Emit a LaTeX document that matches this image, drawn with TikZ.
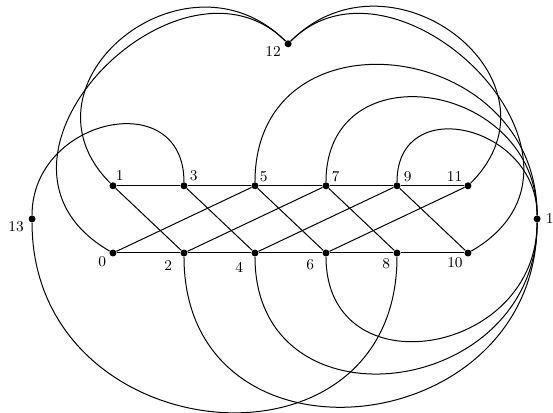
\documentclass[tikz,border=0pt]{standalone}
\usepackage{tikz}
\tikzset{
  vtx/.style={circle,fill=black,inner sep=0pt,minimum size=4.2pt},
  link/.style={line width=0.6pt},
  every label/.style={inner sep=0.5pt,font=\small},
}

\begin{document}
\begin{tikzpicture}
  \def\hy{1.42}
  \useasboundingbox (-2.387,-3.380) rectangle (9.296,5.345);
  % bottom row
  \node[vtx,label={[label distance=1.4pt]202:0}] (v0) at (0,0) {};
  \node[vtx,label={[label distance=5.2pt]211:2}] (v2) at (1.5,0) {};
  \node[vtx,label={[label distance=6pt]219:4}] (v4) at (3,0) {};
  \node[vtx,label={[label distance=4.9pt]205:6}] (v6) at (4.5,0) {};
  \node[vtx,label={[label distance=1.9pt]215:8}] (v8) at (6,0) {};
  \node[vtx,label={[label distance=0.9pt]219:10}] (v10) at (7.5,0) {};
  % top row
  \node[vtx,label={[label distance=0.5pt]68:1}] (v1) at (0,\hy) {};
  \node[vtx,label={[label distance=1.5pt]42:3}] (v3) at (1.5,\hy) {};
  \node[vtx,label={[label distance=0.6pt]41:5}] (v5) at (3,\hy) {};
  \node[vtx,label={[label distance=1.1pt]34:7}] (v7) at (4.5,\hy) {};
  \node[vtx,label={[label distance=1.5pt]27:9}] (v9) at (6,\hy) {};
  \node[vtx,label={[label distance=1.1pt]143:11}] (v11) at (7.5,\hy) {};
  % outer vertices
  \node[vtx,label={[label distance=1.5pt]196:12}] (v12) at (3.7,4.42) {};
  \node[vtx,label={[label distance=2pt]191:13}] (v13) at (-1.71,0.72) {};
  \node[vtx,label={[label distance=2.2pt]0:14}] (v14) at (8.96,0.72) {};

  % ladder
  \draw[link] (v1) -- (v3) -- (v5) -- (v7) -- (v9) -- (v11);
  \draw[link] (v0) -- (v2) -- (v4) -- (v6) -- (v8) -- (v10);
  \draw[link] (v1) -- (v2);
  \draw[link] (v3) -- (v4);
  \draw[link] (v5) -- (v6);
  \draw[link] (v7) -- (v8);
  \draw[link] (v9) -- (v10);
  \draw[link] (v0) -- (v5);
  \draw[link] (v2) -- (v7);
  \draw[link] (v4) -- (v9);
  \draw[link] (v6) -- (v11);

  % arcs to 12
  \draw[link] (v1) to[out=135,in=135,looseness=1.6] (v12);
  \draw[link] (v0) to[out=150,in=135,out distance=3.8cm,in distance=3.17cm] (v12);
  \draw[link] (v11) to[out=45,in=45,looseness=1.6] (v12);
  \draw[link] (v10) to[out=30,in=45,out distance=3.8cm,in distance=3.17cm] (v12);

  % arcs through 13
  \draw[link] (v3) to[out=90,in=90,looseness=1.6] (v13);
  \draw[link] (v13) to[out=270,in=270,looseness=1.6] (v8);

  % arcs to 14
  \draw[link] (v5) to[out=90,in=90,looseness=1.6] (v14);
  \draw[link] (v7) to[out=90,in=90,looseness=1.6] (v14);
  \draw[link] (v9) to[out=90,in=90,looseness=1.6] (v14);
  \draw[link] (v2) to[out=270,in=270,looseness=1.6] (v14);
  \draw[link] (v4) to[out=270,in=270,looseness=1.6] (v14);
  \draw[link] (v6) to[out=270,in=270,looseness=1.6] (v14);
\end{tikzpicture}
\end{document}
